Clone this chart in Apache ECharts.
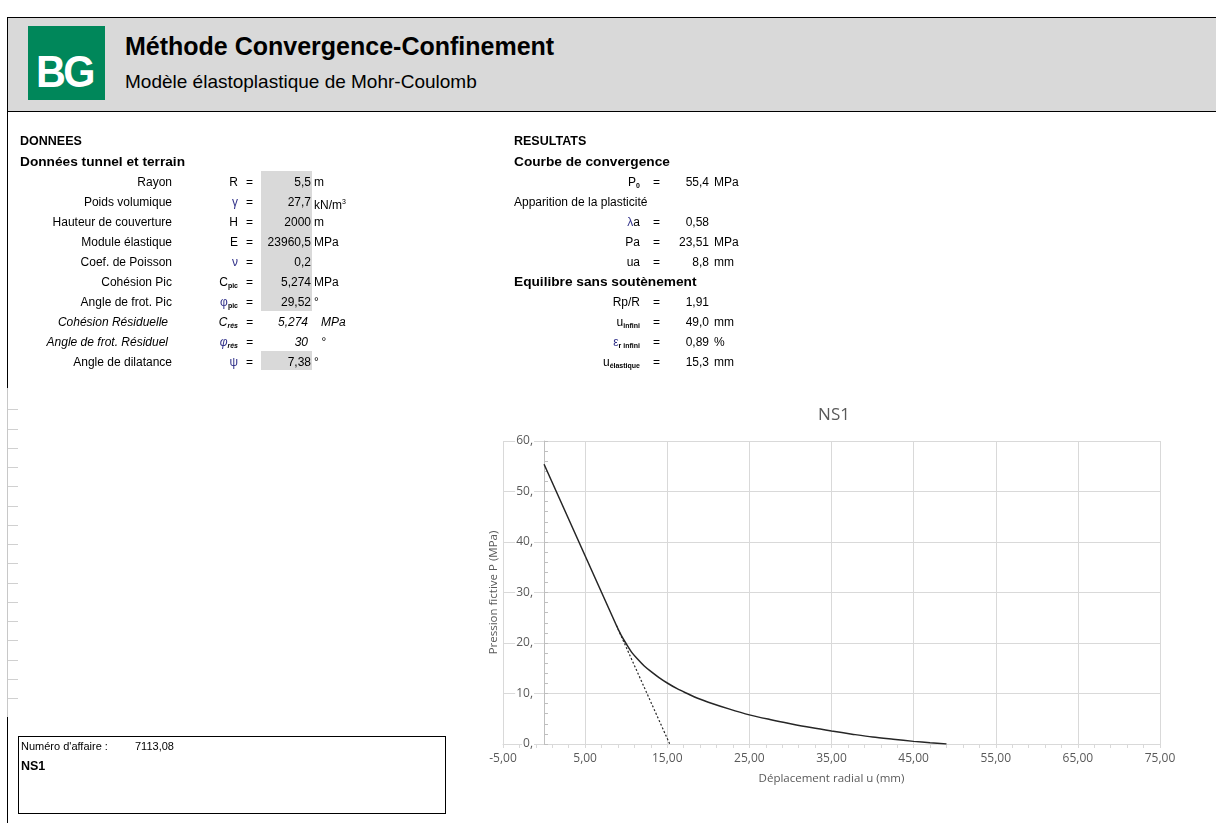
<!DOCTYPE html>
<html><head><meta charset="utf-8">
<script src="https://cdn.jsdelivr.net/npm/echarts@6/dist/echarts.min.js"></script>
<style>
html,body{margin:0;padding:0;background:#fff;width:1216px;height:823px;overflow:hidden;font-family:"Liberation Sans",Arial,sans-serif;}
#chart{position:absolute;left:0;top:0;width:1216px;height:823px;z-index:1;}
.layer{position:absolute;left:0;top:0;width:1216px;height:823px;z-index:2;pointer-events:none;}
.t{position:absolute;white-space:nowrap;font-size:12px;color:#000;line-height:14px;}
.r{text-align:right;}
.b{font-weight:bold;}
.i{font-style:italic;}
.g{color:#33338a;}
sub{font-size:7px;vertical-align:-2px;font-weight:bold;}
sup{font-size:7px;vertical-align:5px;}
.cell{position:absolute;background:#d9d9d9;}
</style>
</head><body>
<div id="chart"></div>
<div class="layer" id="layer">
  <div style="position:absolute;left:7px;top:17px;width:1220px;height:93px;background:#d9d9d9;border-top:1px solid #000;border-left:1px solid #000;border-bottom:1px solid #000;"></div>
  <div style="position:absolute;left:28px;top:26px;width:77px;height:74px;background:#00875a;"></div>
  <div class="t b" style="left:36px;top:50px;font-size:45px;line-height:44px;color:#fff;letter-spacing:-3px;transform:scaleX(0.92);transform-origin:left top;">BG</div>
  <div class="t b" style="left:125px;top:31px;font-size:25px;line-height:30px;">Méthode Convergence-Confinement</div>
  <div class="t" style="left:125px;top:71px;font-size:19px;line-height:22px;">Modèle élastoplastique de Mohr-Coulomb</div>
  <div style="position:absolute;left:7px;top:111px;width:1px;height:277px;background:#000;"></div>
  <div style="position:absolute;left:7px;top:388px;width:1px;height:329px;background:#c8c8c8;"></div>
  <div style="position:absolute;left:7px;top:717px;width:1px;height:106px;background:#000;"></div>
  <div style="position:absolute;left:18px;top:736px;width:426px;height:76px;border:1px solid #000;"></div>
  <div class="t" style="left:21px;top:739px;font-size:11px;">Numéro d'affaire :</div>
  <div class="t" style="left:135px;top:739px;font-size:11px;">7113,08</div>
  <div class="t b" style="left:21px;top:759px;font-size:12.5px;">NS1</div>
</div>
<script>
// ---- DONNEES ----
const donneesLabels = ['Rayon','Poids volumique','Hauteur de couverture','Module élastique','Coef. de Poisson','Cohésion Pic','Angle de frot. Pic','Cohésion Résiduelle','Angle de frot. Résiduel','Angle de dilatance'];
const donneesSymbols = ['R','<span class="g">γ</span>','H','E','<span class="g">ν</span>','C<sub>pic</sub>','<span class="g">φ</span><sub>pic</sub>','C<sub>rés</sub>','<span class="g">φ</span><sub>rés</sub>','<span class="g">ψ</span>'];
const donneesValues = ['5,5','27,7','2000','23960,5','0,2','5,274','29,52','5,274','30','7,38'];
const donneesUnits = ['m','kN/m<sup>3</sup>','m','MPa','','MPa','°','MPa','°','°'];
const donneesItalic = [false,false,false,false,false,false,false,true,true,false];
// ---- RESULTATS ----
const resultSymbols = ['P<sub>0</sub>','','<span class="g">λ</span>a','Pa','ua','','Rp/R','u<sub>infini</sub>','<span class="g">ε</span><sub>r infini</sub>','u<sub>élastique</sub>'];
const resultValues = ['55,4','','0,58','23,51','8,8','','1,91','49,0','0,89','15,3'];
const resultUnits = ['MPa','','','MPa','mm','','','mm','%','mm'];
const resultLines = ['','Apparition de la plasticité','','','','Equilibre sans soutènement','','','',''];
// ---- CHART DATA ----
const elasticU = [0, 8.8];
const elasticP = [55.4, 23.51];
const plasticU = [9.4, 10, 10.7, 11.5, 12.2, 13, 14, 15, 16.2, 17.5, 18.7, 20, 22.5, 25, 27.5, 30, 32.5, 35, 37.5, 40, 42.5, 45, 47, 49.0];
const plasticP = [21.5, 19.85, 18.1, 16.63, 15.45, 14.38, 13.15, 12.08, 10.95, 9.95, 9.05, 8.27, 6.95, 5.77, 4.85, 4.02, 3.25, 2.57, 1.95, 1.37, 0.93, 0.52, 0.25, 0];
const dashedU = [8.8, 15.3];
const dashedP = [23.51, 0];
const chartTitle = 'NS1';
const xName = 'Déplacement radial u (mm)';
const yName = 'Pression fictive P (MPa)';

const layer = document.getElementById('layer');
function add(html, cls, style){ const d=document.createElement('div'); d.className='t '+(cls||''); d.style.cssText=style; d.innerHTML=html; layer.appendChild(d); return d; }
const rowY = i => 182 + i*19.95;

add('DONNEES','b','left:20px;top:134px;font-size:12.5px;');
add('Données tunnel et terrain','b','left:20px;top:155px;font-size:13.7px;');
add('RESULTATS','b','left:514px;top:134px;font-size:12.5px;');
add('Courbe de convergence','b','left:514px;top:155px;font-size:13.7px;');

// grey input cells
[[0,7],[9,10]].forEach(([a,b])=>{
  const c=document.createElement('div'); c.className='cell';
  c.style.cssText=`left:261px;top:${rowY(a)-11}px;width:51px;height:${(b-a)*19.95}px;`;
  layer.appendChild(c);
});

donneesLabels.forEach((lab,i)=>{
  const y=rowY(i)-7, it=donneesItalic[i]?'i':'';
  add(lab,'r '+it,`right:${1216-(donneesItalic[i]?168:172)}px;top:${y}px;`);
  add(donneesSymbols[i],'r '+it,`right:${1216-238}px;top:${y}px;`);
  add('=',it,`left:246px;top:${y}px;`);
  add(donneesValues[i],'r '+it,`right:${1216-(donneesItalic[i]?308:311)}px;top:${y}px;`);
  add(donneesUnits[i],it,`left:${donneesItalic[i]?321:314}px;top:${y}px;`);
});
resultSymbols.forEach((s,i)=>{
  const y=rowY(i)-7;
  if(resultLines[i]){ add(resultLines[i], i===5?'b':'', `left:514px;top:${y}px;`+(i===5?'font-size:13.7px;':'')); return; }
  add(s,'r',`right:${1216-640}px;top:${y}px;`);
  add('=','',`left:653px;top:${y}px;`);
  add(resultValues[i],'r',`right:${1216-709}px;top:${y}px;`);
  add(resultUnits[i],'',`left:714px;top:${y}px;`);
});
// row markers on left edge
for(let k=0;k<16;k++){
  const d=document.createElement('div');
  d.style.cssText=`position:absolute;left:8px;top:${Math.round(409.3+19.25*k)}px;width:10px;height:1px;background:#d0d0d0;`;
  layer.appendChild(d);
}

const zip=(a,b)=>a.map((v,i)=>[v,b[i]]);
const F='"Open Sans", "Noto Sans", sans-serif';
const chart = echarts.init(document.getElementById('chart'));
chart.setOption({
  animation:false,
  title:{text:chartTitle,left:829,top:402,textAlign:'center',textStyle:{fontFamily:F,fontSize:17,fontWeight:'normal',color:'#595959'}},
  grid:{left:503,right:56,top:441,bottom:79,outerBoundsMode:'none'},
  xAxis:{type:'value',min:-5,max:75,interval:10,
    name:xName,nameLocation:'middle',nameGap:29,
    nameTextStyle:{fontFamily:F,fontSize:11.5,color:'#595959'},
    axisLine:{show:true,onZero:false,lineStyle:{color:'#d9d9d9'}},
    axisTick:{show:true,length:4,lineStyle:{color:'#d9d9d9'}},
    minorTick:{show:true,splitNumber:5,length:4,lineStyle:{color:'#d9d9d9'}},
    axisLabel:{formatter:v=>v.toFixed(2).replace('.',','),fontFamily:F,fontSize:12,color:'#595959',margin:9},
    splitLine:{show:true,lineStyle:{color:'#d9d9d9'}}
  },
  yAxis:{type:'value',min:0,max:60,interval:10,offset:-41,
    name:yName,nameLocation:'middle',nameGap:44,nameRotate:90,
    nameTextStyle:{fontFamily:F,fontSize:11.5,color:'#595959'},
    axisLine:{show:true,onZero:false,lineStyle:{color:'#bfbfbf'}},
    axisTick:{show:true,inside:true,length:4,lineStyle:{color:'#bfbfbf'}},
    minorTick:{show:true,splitNumber:5,length:4,lineStyle:{color:'#bfbfbf'}},
    axisLabel:{formatter:v=>v+',',fontFamily:F,fontSize:12,color:'#595959',margin:10,backgroundColor:'#fff',padding:[0,1]},
    splitLine:{show:true,lineStyle:{color:'#d9d9d9'}}
  },
  series:[
    {type:'line',name:'Courbe de convergence',data:zip(elasticU.concat(plasticU),elasticP.concat(plasticP)),
     symbol:'none',smooth:0.3,lineStyle:{color:'#262626',width:1.5},z:3},
    {type:'line',name:'Élastique',data:zip(dashedU,dashedP),symbol:'none',
     lineStyle:{color:'#262626',width:1.2,type:[2,2]},z:2}
  ]
});
</script>
</body></html>
